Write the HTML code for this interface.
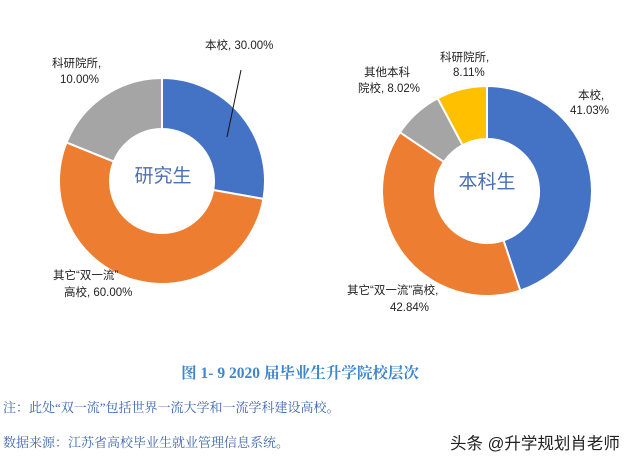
<!DOCTYPE html>
<html><head><meta charset="utf-8"><style>
body{margin:0;width:640px;height:463px;background:#fff;overflow:hidden}
svg{display:block}
.l{font-family:"Liberation Sans","Noto Sans CJK SC",sans-serif;font-size:11.5px;fill:#222}
.c{font-family:"Liberation Sans","Noto Sans CJK SC",sans-serif;font-size:19px;fill:#4a70b0;font-weight:normal}
.n{font-family:"Liberation Serif","Noto Serif CJK SC",serif;font-size:13px;fill:#3d67b0}
</style></head><body>
<svg id="s" width="640" height="463" xmlns="http://www.w3.org/2000/svg">
<g id="g"></g>
<line x1="241" y1="70" x2="227" y2="137" stroke="#111" stroke-width="1"/>
<text class="c" x="163" y="182" text-anchor="middle">研究生</text>
<text class="c" x="487" y="188" text-anchor="middle">本科生</text>
<text class="l" x="205" y="49">本校, 30.00%</text>
<text class="l" x="52" y="67">科研院所,</text>
<text class="l" x="60" y="83">10.00%</text>
<text class="l" x="53" y="279">其它“双一流”</text>
<text class="l" x="64" y="296">高校, 60.00%</text>
<text class="l" x="440" y="61">科研院所,</text>
<text class="l" x="453" y="76">8.11%</text>
<text class="l" x="364" y="76">其他本科</text>
<text class="l" x="358" y="92">院校, 8.02%</text>
<text class="l" x="578" y="99">本校,</text>
<text class="l" x="570" y="114">41.03%</text>
<text class="l" x="347" y="294">其它“双一流”高校,</text>
<text class="l" x="390" y="311">42.84%</text>
<text x="300" y="378" text-anchor="middle" font-family="Liberation Serif,'Noto Serif CJK SC',serif" font-size="15.5" font-weight="bold" fill="#3f85cc">图 1- 9 2020 届毕业生升学院校层次</text>
<text class="n" x="3" y="412">注：此处“双一流”包括世界一流大学和一流学科建设高校。</text>
<text class="n" x="3" y="447">数据来源：江苏省高校毕业生就业管理信息系统。</text>
<text x="450" y="449" font-family="Liberation Sans,'Noto Sans CJK SC',sans-serif" font-size="16.5" fill="#222">头条 @升学规划肖老师</text>
</svg>
<script>
function donut(cx,cy,R,r,segs){
 var g=document.getElementById('g'),s='';
 for(var i=0;i<segs.length;i++){
  var a0=segs[i][0]*Math.PI/180,a1=segs[i][1]*Math.PI/180;
  var p=function(rad,a){return [cx+rad*Math.sin(a),cy-rad*Math.cos(a)]};
  var A=p(R,a0),B=p(R,a1),C=p(r,a1),D=p(r,a0),lg=(a1-a0)>Math.PI?1:0;
  s+='<path d="M'+A+' A'+R+','+R+' 0 '+lg+' 1 '+B+' L'+C+' A'+r+','+r+' 0 '+lg+' 0 '+D+'Z" fill="'+segs[i][2]+'" stroke="#fff" stroke-width="2"/>';
 }
 g.innerHTML+=s;
}
donut(162,181,103,52,[[0,100,'#4472C4'],[100,292,'#ED7D31'],[292,360,'#A5A5A5']]);
donut(487,191,105,52,[[0,161.5,'#4472C4'],[161.5,304,'#ED7D31'],[304,332,'#A5A5A5'],[332,360,'#FFC000']]);
</script>
</body></html>
